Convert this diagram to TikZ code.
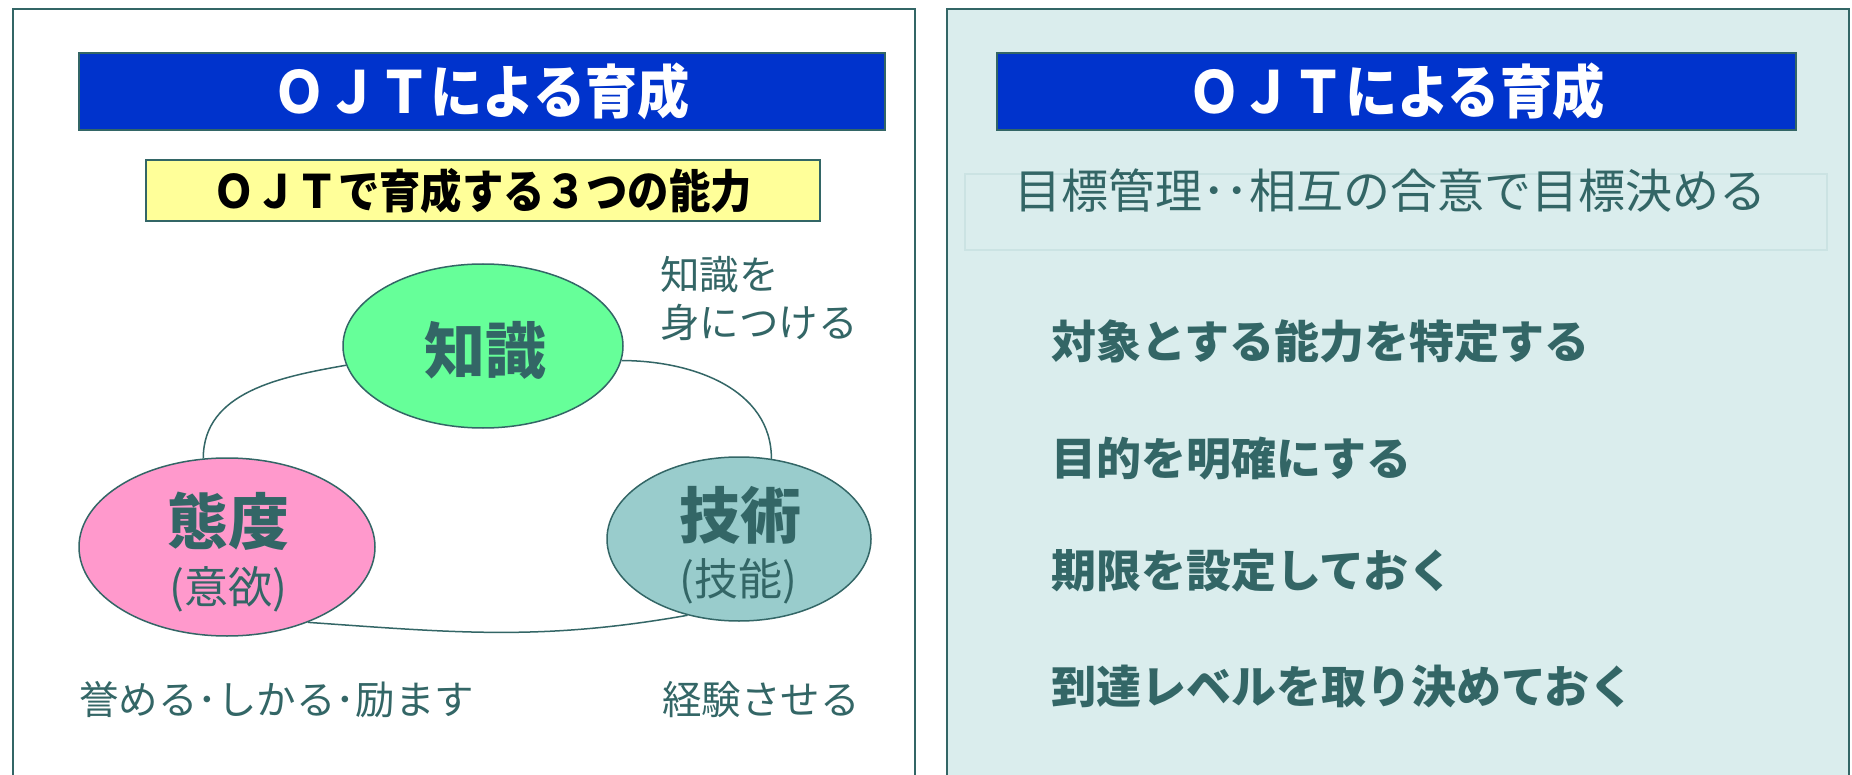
\documentclass[tikz,border=0pt]{standalone}
\usepackage{fontspec}
\setmainfont{Noto Sans CJK JP}
\newfontfamily\condjp{Noto Sans CJK JP}[FakeStretch=0.9]
\usetikzlibrary{shapes.geometric}
\definecolor{teal1}{HTML}{336666}
\definecolor{ojtblue}{HTML}{0033CC}
\definecolor{panelbg}{HTML}{DAEDED}
\definecolor{green1}{HTML}{66FF99}
\definecolor{pink1}{HTML}{FF99CC}
\definecolor{aqua1}{HTML}{99CCCC}
\definecolor{yellow1}{HTML}{FFFF99}
\definecolor{faint}{HTML}{CBE3E3}
\tikzset{
  panel/.style={draw=teal1, line width=1.6pt},
  titlebar/.style={rectangle, fill=ojtblue, draw=teal1, line width=1.2pt, minimum height=77pt, inner sep=0pt, text=white, font=\condjp\fontsize{58}{58}\selectfont\bfseries},
  yellowbox/.style={rectangle, fill=yellow1, draw=teal1, line width=1.2pt, minimum width=674pt, minimum height=61pt, inner sep=0pt, text=black, font=\condjp\fontsize{46}{46}\selectfont\bfseries},
  blob/.style={ellipse, draw=teal1, line width=1.5pt, inner sep=0pt},
  bigtxt/.style={text=teal1, inner sep=0pt, font=\fontsize{61}{61}\selectfont\bfseries},
  midtxt/.style={text=teal1, inner sep=0pt, font=\fontsize{44}{44}\selectfont},
  sidetxt/.style={text=teal1, inner sep=0pt, anchor=west, align=left, font=\fontsize{39.5}{48}\selectfont},
  itemtxt/.style={text=teal1, inner sep=0pt, anchor=west, font=\fontsize{45}{45}\selectfont\bfseries},
  link/.style={draw=teal1, line width=1.5pt}
}
\begin{document}
\begin{tikzpicture}[x=1pt,y=-1pt]
\useasboundingbox (0,0) rectangle (1852,775);
\fill[white] (0,0) rectangle (1852,775);
% panels
\draw[panel] (13,9) rectangle (915,800);
\draw[panel, fill=panelbg] (947,9) rectangle (1849,800);
% left panel
\node[titlebar, minimum width=806pt] (t1) at (482,91.5) {ＯＪＴによる育成};
\node[yellowbox] (yb) at (483,190.5) {ＯＪＴで育成する３つの能力};
\node[blob, fill=green1, minimum width=280pt, minimum height=164pt] (chishiki) at (483,346) {};
\node[blob, fill=pink1, minimum width=296pt, minimum height=178pt] (taido) at (227,547) {};
\node[blob, fill=aqua1, minimum width=264pt, minimum height=164pt] (gijutsu) at (739,539) {};
\node[bigtxt] (lchishiki) at (485,350) {知識};
\node[bigtxt] (ltaido) at (228,521) {態度};
\node[midtxt] (ltaido2) at (228,589) {(意欲)};
\node[bigtxt] (lgijutsu) at (740,515) {技術};
\node[midtxt] (lgijutsu2) at (738,581) {(技能)};
\draw[link] (chishiki.188) to[out=190, in=90] (taido.105);
\draw[link] (chishiki.-6) to[out=0, in=90] (gijutsu.68);
\draw[link] (taido.-43) to[out=-4, in=190] (gijutsu.-124);
\node[sidetxt] (s1) at (660,298) {知識を\\身につける};
\node[sidetxt] (s2) at (79,700) {誉める･しかる･励ます};
\node[sidetxt] (s3) at (662,700) {経験させる};
% right panel
\node[titlebar, minimum width=799pt] (t2) at (1396.5,91.5) {ＯＪＴによる育成};
\draw[faint, line width=1.2pt] (965,174) rectangle (1827,250);
\node[text=teal1, inner sep=0pt, font=\fontsize{47}{47}\selectfont] (goal) at (1390,191) {目標管理･･相互の合意で目標決める};
\node[itemtxt] (i1) at (1051,341) {対象とする能力を特定する};
\node[itemtxt] (i2) at (1051,459) {目的を明確にする};
\node[itemtxt] (i3) at (1051,571) {期限を設定しておく};
\node[itemtxt] (i4) at (1051,686) {到達レベルを取り決めておく};
\end{tikzpicture}
\end{document}
